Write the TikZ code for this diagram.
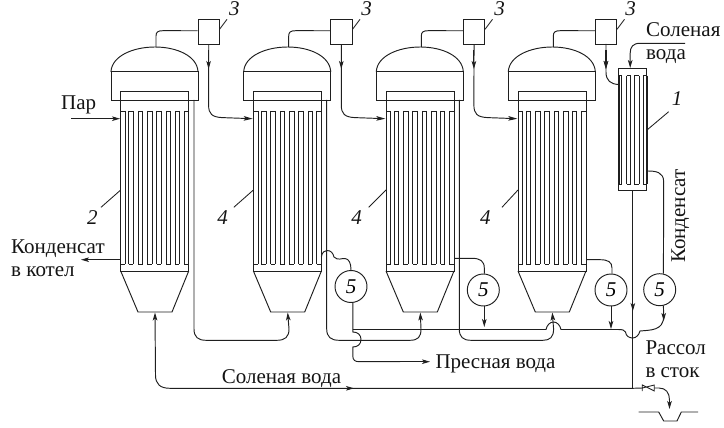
\documentclass[tikz,border=0pt]{standalone}
\usepackage{fontspec}
\setmainfont{Liberation Serif}
\usetikzlibrary{arrows.meta}
\tikzset{
  pipe/.style={line width=0.95pt,draw=black!88},
  thin pipe/.style={line width=0.85pt,draw=black!88},
  arr/.style={pipe,-{Stealth[length=8pt,width=4.6pt,inset=2pt]}},
  sepbox/.style={draw=black!88,line width=0.95pt,minimum width=21.5pt,minimum height=24.5pt,inner sep=0pt},
  pumpc/.style={circle,draw=black!88,line width=0.95pt,minimum size=32pt,inner sep=0pt,font=\fontsize{21}{21}\selectfont\itshape},
  lbl/.style={anchor=base west,inner sep=0pt,font=\fontsize{21}{21}\selectfont,text=black!92},
  num/.style={inner sep=0pt,font=\fontsize{21}{21}\selectfont\itshape,text=black!92},
}
\begin{document}
\begin{tikzpicture}[x=1pt,y=-1pt]
\useasboundingbox (0,0) rectangle (724,428);
% evaporators
\foreach \i/\dx in {1/0,2/132.7,3/265.3,4/397.3}{
\begin{scope}[xshift=\dx pt]
  \draw[pipe] (111,71.5) .. controls (112,56) and (133,47) .. (155,47)
     .. controls (177,47) and (197,56) .. (198,71.5) -- cycle;
  \draw[pipe] (111,71.5) -- (111,100) -- (198,100) -- (198,71.5);
  \draw[pipe] (120.7,111) -- (120.7,91) -- (188.7,91) -- (188.7,111);
  \draw[pipe] (120.7,111) -- (120.7,271) -- (188.7,271) -- (188.7,111);
  \foreach \a/\b in {120.7/125.3,128.7/133.3,138/142.7,147.3/152,156.7/161.3,166/170.7,175.3/179.3,184/188.7}{
    \draw[thin pipe] (\a,111) -- (\b,111);
    \draw[thin pipe] (\a,264) -- (\b,264);
    \draw[thin pipe] (\a,111) -- (\a,264);
    \draw[thin pipe] (\b,111) -- (\b,264);
  }
  \draw[pipe] (120.7,271) -- (138,312) -- (172,312) -- (188.7,271);
  \coordinate (dome\i) at (156,47);
  \coordinate (inlet\i) at (120,118.7);
  \coordinate (cone\i) at (155,312.5);
  \coordinate (wall\i) at (120.7,190);
  \node[sepbox] (sep\i) at (208.75,31.75) {};
  \draw[pipe] (dome\i) -- (156,36) .. controls (156,32) and (158,30.7) .. (163,30.7) -- ([yshift=1pt]sep\i.west);
  \draw[arr] (208.6,50) -- (208.6,69);
\end{scope}}
% separator to next effect
\foreach \i/\j/\dx in {1/2/0,2/3/132.7,3/4/265.3}{
\begin{scope}[xshift=\dx pt]
  \draw[pipe,-{Stealth[length=9pt,width=4.6pt,inset=2pt]}] (sep\i.south) -- (208.6,105) .. controls (208.6,114) and (212,117) .. (222,117.6) -- (inlet\j);
\end{scope}}
% condenser
\node[draw=black!88,line width=0.95pt,minimum width=28pt,minimum height=122pt,inner sep=0pt] (cond) at (632.85,129.2) {};
\foreach \a/\b in {619/621.7,626.7/630.7,634.3/639,643.3/647}{
  \draw[thin pipe] (\a,75.7) -- (\a,184);
  \draw[thin pipe] (\b,75.7) -- (\b,184);
  \draw[thin pipe] (\a,184) -- (\b,184);
  \draw[thin pipe] (\a,75.7) -- (\b,75.7);
}
\draw[pipe] (606,44) -- (606,72) .. controls (606,81) and (611,84) .. (cond.west |- 0,84.5);
\draw[arr] (606,50) -- (606,69);
\coordinate (brinein) at (685,43.3);
\draw[arr] (brinein) -- (640,43.3) .. controls (633,43.3) and (630.2,47) .. (630.2,53) -- (630.2,68);
% pumps
\node[pumpc] (pump2) at (351,286.5) {5};
\node[pumpc] (pump3) at (483.3,290) {5};
\node[pumpc] (pump4) at (611,290) {5};
\node[pumpc] (pump5) at (659.7,289.7) {5};
% condensate lines to pumps
\draw[pipe] (321.4,256.7) .. controls (322,252) and (325,250.5) .. (327,250.5) .. controls (331,250.5) and (333,253) .. (334,257) .. controls (338,261) and (342,258) .. (345,258.5) .. controls (349,259) and (351,263) .. (pump2.north);
\draw[pipe] (454,258.3) -- (472,258.3) .. controls (480,258.3) and (484.3,261) .. (484.3,268) -- (pump3.north -| 484.3,0);
\draw[pipe] (586,259.7) -- (600,259.7) .. controls (608,259.7) and (612,262) .. (612,268) -- (pump4.north -| 612,0);
\draw[pipe] (cond.east |- 0,171) .. controls (656,171) and (663.7,172) .. (663.7,182) -- (pump5.77);
% shell overflow pipes
\coordinate (out1) at (194,100);
\coordinate (out2) at (326.7,100);
\coordinate (out3) at (459.3,100);
\draw[arr] (out1) -- (194,329) .. controls (194,337) and (198,340.3) .. (206,340.3) -- (277,340.3) .. controls (285,340.3) and (289,337) .. (289,329) -- (cone2);
\draw[arr] (out2) -- (326.7,329) .. controls (326.7,337) and (331,340.3) .. (339,340.3) -- (410,340.3) .. controls (418,340.3) and (421,337) .. (421,329) -- (cone3);
\draw[arr] (out3) -- (459.3,329) .. controls (459.3,337) and (463,340.3) .. (471,340.3) -- (543,340.3) .. controls (550,340.3) and (553.6,337) .. (553.6,329) -- (cone4);
% fresh water collector
\coordinate (freshstart) at (352.8,329.5);
\draw[pipe] (pump2.south -| 352.8,0) -- (352.8,332) .. controls (358,332) and (361,335) .. (361,339.5) .. controls (361,344) and (358,347) .. (352.8,347) -- (352.8,356) .. controls (352.8,360) and (355,361.7) .. (359,361.7) -- (400,361.7);
\coordinate (freshend) at (430,361.7);
\draw[arr] (400,361.7) -- (freshend);
\draw[pipe] (freshstart) -- (546,329.5) .. controls (547,325) and (550,322) .. (553.5,322) .. controls (557,322) and (560,325) .. (561,329.5) -- (618,329.5) .. controls (622,329.5) and (625,330) .. (625.5,332) .. controls (626,336) and (629,338) .. (632.7,338) .. controls (636,338) and (639,335) .. (640,331) .. controls (650,330) and (663.7,331) .. (663.7,316) -- (pump5.-77);
\draw[arr] (663.7,306) -- (663.7,321);
\draw[arr] (pump3.south -| 484.3,0) -- (484.3,327);
\draw[arr] (pump4.south -| 611,0) -- (611,329);
% brine / salt water
\coordinate (brinejoin) at (632.85,388.3);
\draw[pipe] (cond.south) -- (brinejoin);
\draw[arr] (632.85,292) -- (632.85,311);
\draw[arr] (brinejoin) -- (170,388.3) .. controls (160,388.3) and (155.5,384) .. (155.5,375) -- (cone1);
\draw[arr] (335,388.3) -- (354,388.3);
% valve and drain
\coordinate (valvein) at (642.3,388);
\coordinate (valveout) at (654.3,388);
\draw[pipe] (brinejoin) -- (valvein);
\draw[thin pipe] (valvein) -- (654.3,385) -- (654.3,391) -- (642.3,385) -- (642.3,391) -- cycle;
\draw[arr] (valveout) -- (659,388) .. controls (666,388) and (669.5,393) .. (669.5,400) -- (669.5,409);
\draw[pipe] (638.7,412) -- (658.7,412) -- (663.7,421) -- (677,421) -- (681.3,412) -- (698,412);
% steam and condensate to boiler
\coordinate (steamstart) at (71,118.7);
\draw[arr] (steamstart) -- (inlet1);
\coordinate (boiler) at (81,259.7);
\draw[arr] (120.7,259.7) -- (boiler);
% leaders and numbers
\foreach \nm/\lx/\x in {a/234.3/219.5,b/366.5/352.5,c/499.5/485,d/630.5/617}{
  \node[num] (n3\nm) at (\lx,8.5) {3};
  \draw[thin pipe] (\x,29.3) -- ({\x+7.5},19.3);
}
\node[num] (n1) at (677,99) {1};
\draw[thin pipe] (647,130) -- (668.7,111.7);
\node[num] (n2) at (92.3,218) {2};
\draw[thin pipe] (wall1) -- (101,207.3);
\node[num] (n4a) at (222.7,218) {4};
\draw[thin pipe] (wall2) -- (233.8,207.3);
\node[num] (n4b) at (356.7,218) {4};
\draw[thin pipe] (wall3) -- (368.7,207.3);
\node[num] (n4c) at (485.3,218) {4};
\draw[thin pipe] (wall4) -- (502,207.3);
% labels
\node[lbl] (t1) at (61,110) {Пар};
\node[lbl] (t2) at (11,253.3) {Конденсат};
\node[lbl] (t3) at (11,276.7) {в котел};
\node[lbl] (t4) at (221.7,383) {Соленая вода};
\node[lbl] (t5) at (435.3,368) {Пресная вода};
\node[lbl] (t6) at (645.3,354) {Рассол};
\node[lbl] (t7) at (645.3,377.3) {в сток};
\node[lbl] (t8) at (646,36.7) {Соленая};
\node[lbl] (t9) at (646,60) {вода};
\node[lbl,rotate=90] (t10) at (685,263) {Конденсат};
\end{tikzpicture}
\end{document}
